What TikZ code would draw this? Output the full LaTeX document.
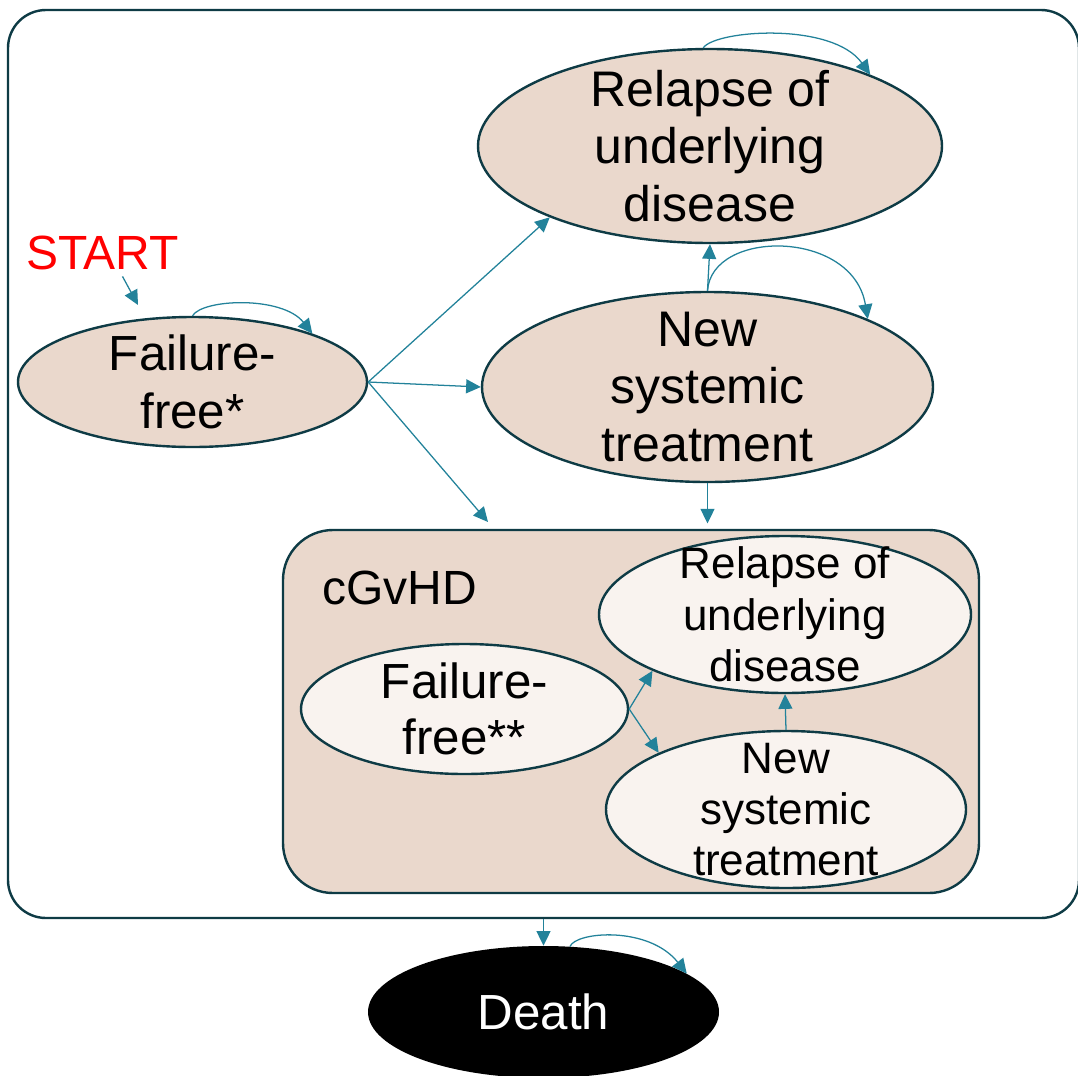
\documentclass[tikz,border=0pt]{standalone}
\usepackage{fontspec}
\setmainfont{Liberation Sans}
\usetikzlibrary{arrows.meta,shapes.geometric}
\definecolor{edgec}{HTML}{0E3B45}
\definecolor{arrowc}{HTML}{22829A}
\definecolor{beige}{HTML}{EAD8CC}
\definecolor{cream}{HTML}{F9F3EF}
\begin{document}
\begin{tikzpicture}[x=0.75pt,y=-0.75pt,
  state/.style={ellipse,draw=edgec,line width=1.8pt,fill=beige,inner sep=0pt},
  istate/.style={state,fill=cream},
  bigtxt/.style={align=center,inner sep=0pt,font=\fontsize{37.5}{43}\selectfont},
  smalltxt/.style={align=center,inner sep=0pt,font=\fontsize{33}{38.5}\selectfont},
  arr/.style={draw=arrowc,line width=0.95pt,-{Triangle[length=11pt,width=10.5pt]}},
  box/.style={rectangle,draw=edgec,line width=1.8pt,inner sep=0pt}
]
\useasboundingbox (0,0) rectangle (1078,1075);
\clip (0,0) rectangle (1078,1075);

% outer container and cGvHD box
\node[box,fill=white,rounded corners=28.5pt,minimum width=803.25pt,minimum height=681pt] (outer) at (543.5,464) {};
\node[box,fill=beige,rounded corners=37.5pt,minimum width=522pt,minimum height=272.25pt] (cg) at (631,711.5) {};
\node[inner sep=0pt,font=\fontsize{36}{43}\selectfont] (cglabel) at (399.5,588) {cGvHD};

% top-level states
\node[state,minimum width=348pt,minimum height=145.5pt,
  label={[bigtxt]center:{Relapse of\\underlying\\disease}}] (rel) at (710,146) {};
\node[state,minimum width=338.25pt,minimum height=142.5pt,
  label={[bigtxt]center:{New\\systemic\\treatment}}] (ns) at (707.5,387) {};
\node[state,minimum width=261.75pt,minimum height=97.5pt,
  label={[align=center,inner sep=0pt,font=\fontsize{37}{44}\selectfont]center:{Failure-\\free*}}] (ff) at (192.5,382) {};

% inner states
\node[istate,minimum width=245.25pt,minimum height=97.5pt,
  label={[align=center,inner sep=0pt,font=\fontsize{37}{42}\selectfont]center:{Failure-\\free**}}] (ff2) at (464.5,709) {};
\node[istate,minimum width=279pt,minimum height=117.75pt,
  label={[smalltxt]center:{Relapse of\\underlying\\disease}}] (r2) at (785,614.5) {};
\node[istate,minimum width=270pt,minimum height=117.75pt,
  label={[smalltxt]center:{New\\systemic\\treatment}}] (n2) at (786,809.5) {};

% death
\node[ellipse,fill=black,inner sep=0pt,minimum width=263.25pt,minimum height=99pt,
  label={[text=white,inner sep=0pt,font=\fontsize{37}{43}\selectfont]center:Death}] (death) at (543.5,1012) {};

% start
\node[text={rgb,255:red,255;green,0;blue,0},inner sep=0pt,font=\fontsize{36}{42}\selectfont] (start) at (102.5,252.5) {START};
\coordinate (ffentry) at (138,305);
\coordinate (cgentry) at (488,522);

% connectors
\draw[arr] ([xshift=15pt,yshift=-5pt]start.south) -- (ffentry);
\draw[arr] (ff.90) .. controls +(10,-17) and +(-30,-38) .. (ff.22);
\draw[arr] (ff.east) -- (rel.204);
\draw[arr] (ff.east) -- (ns.west);
\draw[arr] (ff.east) -- (cgentry);
\draw[arr] (rel.94) .. controls +(13,-18) and +(-38,-53) .. (rel.24);
\draw[arr] (ns.north) -- (rel.south);
\draw[arr] (ns.90) .. controls +(4,-62) and +(-15,-90) .. (ns.23);
\draw[arr,shorten >=4pt] (ns.south) -- (ns.south |- cg.north);
\draw[arr] (ff2.east) -- (r2.203);
\draw[arr] (ff2.east) -- (n2.156);
\draw[arr] (n2.north) -- (r2.south);
\draw[arr] (outer.south) -- (death.north);
\draw[arr] (death.68) .. controls +(6,-15) and +(-38,-48) .. (death.15);
\end{tikzpicture}
\end{document}
